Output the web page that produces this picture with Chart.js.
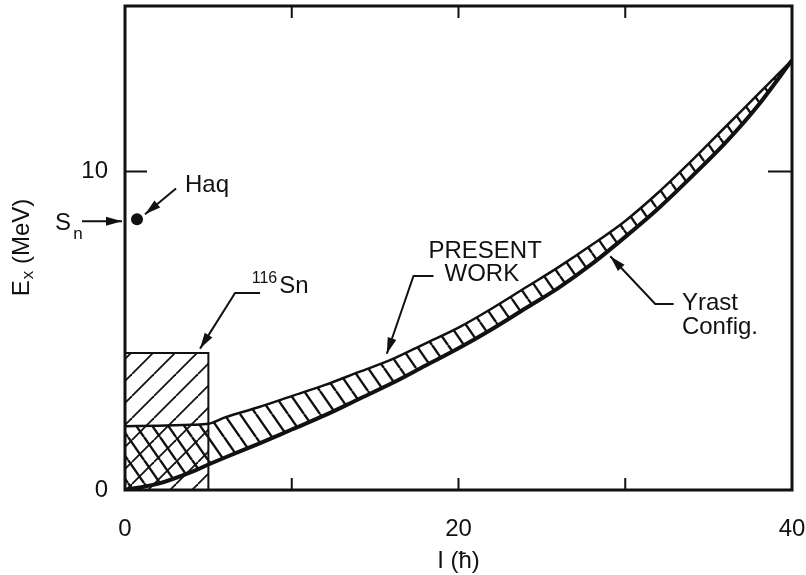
<!DOCTYPE html>
<html>
<head>
<meta charset="utf-8">
<script src="https://cdn.jsdelivr.net/npm/chart.js@4.4.1/dist/chart.umd.min.js"></script>
<style>
    html, body { margin: 0; padding: 0; background: #fff; }
    #wrap { width: 806px; height: 575px; }
</style>
</head>
<body>
<div id="wrap"><canvas id="chart"></canvas></div>
<script>
// spin I (hbar) and excitation energy Ex (MeV)
const spin = [0, 2, 4, 5, 6, 8, 10, 12, 14, 16, 18, 20, 22, 24, 26, 28, 30, 32, 34, 36, 38, 40];
const yrastE = [0, 0.2, 0.57, 0.8, 1.02, 1.45, 1.9, 2.35, 2.85, 3.35, 3.9, 4.45, 5.05, 5.7, 6.35, 7.1, 7.95, 8.85, 9.85, 10.9, 12.1, 13.5];
const presentE = [2.0, 2.02, 2.05, 2.08, 2.28, 2.6, 2.95, 3.3, 3.7, 4.1, 4.6, 5.1, 5.7, 6.35, 7.0, 7.7, 8.45, 9.35, 10.35, 11.4, 12.45, 13.5];
// 116Sn region
const snBoxI = [0, 5, 5];
const snBoxE = [4.3, 4.3, 0];
// Haq point
const haqI = [0.72];
const haqE = [8.5];

const xTickLabels = [0, 20, 40];
const yTickLabels = [0, 10];
const xInnerTicks = [10, 20, 30];
const yInnerTicks = [10];

const FONT = '"Liberation Sans", Arial, sans-serif';
const INK = '#111';

const canvas = document.getElementById('chart');
const mainCtx = canvas.getContext('2d');

function hatch(w, h, dirs, lw) {
    const c = document.createElement('canvas');
    c.width = w;
    c.height = h;
    const g = c.getContext('2d');
    g.strokeStyle = INK;
    g.lineWidth = lw;
    dirs.forEach(d => {
        for (let k = -1; k <= 1; k++) {
            g.beginPath();
            if (d === '/') {
                g.moveTo(k * w, h);
                g.lineTo(k * w + w, 0);
            } else {
                g.moveTo(k * w, 0);
                g.lineTo(k * w + w, h);
            }
            g.stroke();
        }
    });
    return mainCtx.createPattern(c, 'repeat');
}

const bandPattern = hatch(16, 23, ['\\'], 2.4);
const boxPattern = hatch(22, 22, ['/'], 1.8);

const pts = (xs, ys) => xs.map((v, i) => ({ x: v, y: ys[i] }));

// arrows and labels, anchored in data units
const arrows = [
    [[3.06, 9.47], [1.2, 8.66]],
    [[-2.58, 8.44], [-0.18, 8.44]],
    [[8.1, 6.19], [6.6, 6.19], [4.5, 4.44]],
    [[18.5, 6.72], [17.3, 6.72], [15.7, 4.28]],
    [[32.9, 5.84], [31.8, 5.84], [29.1, 7.34]]
];
const labels = [
    { t: 'Haq', x: 3.6, y: 9.35, size: 24, align: 'left' },
    { t: 'S', x: -4.2, y: 8.16, size: 24, align: 'left' },
    { t: 'n', x: -3.1, y: 7.87, size: 17, align: 'left' },
    { t: '116', x: 7.6, y: 6.5, size: 16, align: 'left' },
    { t: 'Sn', x: 9.25, y: 6.19, size: 24, align: 'left' },
    { t: 'PRESENT', x: 21.6, y: 7.28, size: 24, align: 'center' },
    { t: 'WORK', x: 21.4, y: 6.56, size: 24, align: 'center' },
    { t: 'Yrast', x: 33.4, y: 5.66, size: 24, align: 'left' },
    { t: 'Config.', x: 33.4, y: 4.9, size: 24, align: 'left' }
];

const noPad = s => {
    s.paddingTop = 0;
    s.paddingBottom = 0;
    s.paddingLeft = 0;
    s.paddingRight = 0;
};

const decor = {
    id: 'decor',
    afterDraw(chart) {
        const { ctx, chartArea: a, scales: { x, y } } = chart;
        const px = v => x.getPixelForValue(v);
        const py = v => y.getPixelForValue(v);
        ctx.save();
        ctx.strokeStyle = INK;
        ctx.fillStyle = INK;

        // frame
        ctx.lineWidth = 3;
        ctx.strokeRect(a.left, a.top, a.right - a.left, a.bottom - a.top);

        // inward ticks
        ctx.lineWidth = 2;
        ctx.beginPath();
        xInnerTicks.forEach(v => {
            ctx.moveTo(px(v), a.bottom);
            ctx.lineTo(px(v), a.bottom - 12);
            ctx.moveTo(px(v), a.top);
            ctx.lineTo(px(v), a.top + 12);
        });
        yInnerTicks.forEach(v => {
            ctx.moveTo(a.left, py(v));
            ctx.lineTo(a.left + 22, py(v));
            ctx.moveTo(a.right, py(v));
            ctx.lineTo(a.right - 24, py(v));
        });
        ctx.stroke();

        // arrows
        arrows.forEach(line => {
            const p = line.map(q => [px(q[0]), py(q[1])]);
            ctx.lineWidth = 2;
            ctx.beginPath();
            ctx.moveTo(p[0][0], p[0][1]);
            p.slice(1).forEach(q => ctx.lineTo(q[0], q[1]));
            ctx.stroke();
            const [x1, y1] = p[p.length - 2];
            const [x2, y2] = p[p.length - 1];
            const ang = Math.atan2(y2 - y1, x2 - x1);
            const len = 16, half = 4.5;
            ctx.beginPath();
            ctx.moveTo(x2, y2);
            ctx.lineTo(x2 - len * Math.cos(ang) + half * Math.sin(ang), y2 - len * Math.sin(ang) - half * Math.cos(ang));
            ctx.lineTo(x2 - len * Math.cos(ang) - half * Math.sin(ang), y2 - len * Math.sin(ang) + half * Math.cos(ang));
            ctx.closePath();
            ctx.fill();
        });

        // labels
        ctx.textBaseline = 'alphabetic';
        labels.forEach(l => {
            ctx.font = l.size + 'px ' + FONT;
            ctx.textAlign = l.align;
            ctx.fillText(l.t, px(l.x), py(l.y));
        });

        // axis titles
        ctx.font = '24px ' + FONT;
        ctx.textAlign = 'center';
        ctx.textBaseline = 'middle';
        ctx.fillText('I (\u0127)', (a.left + a.right) / 2, 561);

        ctx.translate(22, (a.top + a.bottom) / 2);
        ctx.rotate(-Math.PI / 2);
        ctx.textAlign = 'left';
        ctx.textBaseline = 'middle';
        const big = '24px ' + FONT, small = '17px ' + FONT;
        ctx.font = big;
        const wE = ctx.measureText('E').width;
        const wRest = ctx.measureText(' (MeV)').width;
        ctx.font = small;
        const wx = ctx.measureText('x').width;
        let sx = -(wE + wx + wRest) / 2;
        ctx.font = big;
        ctx.fillText('E', sx, 0);
        ctx.font = small;
        ctx.fillText('x', sx + wE + 1, 6);
        ctx.font = big;
        ctx.fillText(' (MeV)', sx + wE + wx + 1, 0);

        ctx.restore();
    }
};

const data = {
    datasets: [
        {
            label: 'Haq',
            data: pts(haqI, haqE),
            showLine: false,
            pointRadius: 6,
            pointBackgroundColor: INK,
            pointBorderWidth: 0,
            order: 0
        },
        {
            label: 'Yrast',
            data: pts(spin, yrastE),
            borderColor: INK,
            borderWidth: 4,
            pointRadius: 0,
            cubicInterpolationMode: 'monotone',
            fill: false,
            order: 1
        },
        {
            label: 'Present work',
            data: pts(spin, presentE),
            borderColor: INK,
            borderWidth: 2.5,
            pointRadius: 0,
            cubicInterpolationMode: 'monotone',
            fill: { target: 1 },
            backgroundColor: bandPattern,
            order: 2
        },
        {
            label: '116Sn',
            data: pts(snBoxI, snBoxE),
            borderColor: INK,
            borderWidth: 2,
            pointRadius: 0,
            tension: 0,
            fill: 'origin',
            backgroundColor: boxPattern,
            order: 3
        }
    ]
};

const config = {
    type: 'line',
    data,
    options: {
        responsive: true,
        maintainAspectRatio: false,
        animation: false,
        layout: { padding: { top: 4, right: 14, left: 0, bottom: 0 } },
        plugins: {
            legend: false,
            tooltip: { enabled: false },
            filler: { drawTime: 'beforeDatasetsDraw' }
        },
        scales: {
            x: {
                type: 'linear',
                min: 0,
                max: 40,
                grid: { display: false },
                border: { display: false },
                ticks: {
                    color: INK,
                    font: { family: FONT, size: 24 },
                    padding: 17,
                    maxRotation: 0,
                    autoSkip: false
                },
                afterBuildTicks: s => { s.ticks = xTickLabels.map(v => ({ value: v })); },
                afterFit: s => { s.height = 85; noPad(s); }
            },
            y: {
                min: 0,
                max: 15.2,
                grid: { display: false },
                border: { display: false },
                ticks: {
                    color: INK,
                    font: { family: FONT, size: 24 },
                    padding: 9
                },
                afterBuildTicks: s => { s.ticks = yTickLabels.map(v => ({ value: v })); },
                afterFit: s => { s.width = 125; noPad(s); }
            }
        }
    },
    plugins: [decor]
};

const myChart = new Chart(canvas, config);
</script>
</body>
</html>
